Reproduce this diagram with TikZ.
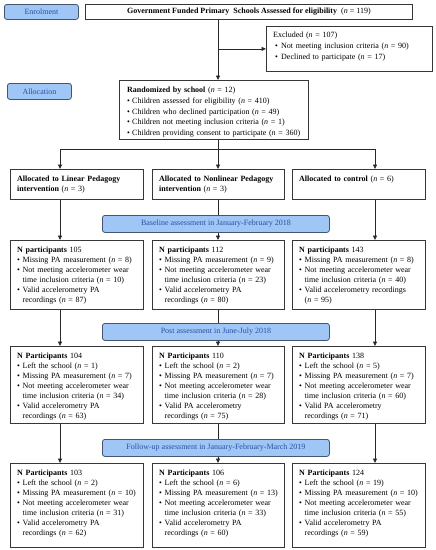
\documentclass[tikz,border=0pt]{standalone}
\usepackage{fontspec}
\setmainfont{Liberation Serif}
\usetikzlibrary{arrows.meta}
\definecolor{boxc}{RGB}{55,55,55}
\definecolor{banf}{RGB}{160,198,245}
\definecolor{banc}{RGB}{70,85,110}
\definecolor{bant}{RGB}{40,80,165}
\definecolor{linec}{RGB}{40,40,40}
\newcommand\bul{\par\makebox[5.5pt][l]{\textbullet}}
\newcommand\cont{\par\hspace*{5.5pt}}
\newcommand\nn{\textit{n}}
\tikzset{
  box/.style={draw=boxc, line width=0.8pt, fill=white, inner sep=0pt, anchor=north west},
  txt/.style={inner sep=0pt, anchor=north west, align=left, text width=200pt,
    font=\fontsize{8}{10}\selectfont, execute at begin node={\setlength{\parindent}{0pt}\strut}},
  banner/.style={draw=banc, fill=banf, rounded corners=2.5pt, line width=0.8pt, text=bant,
    inner sep=0pt, anchor=north west, font=\fontsize{8}{9}\selectfont},
  arr/.style={-{Triangle[length=4.5pt,width=4pt]}, line width=0.8pt, draw=linec},
  ln/.style={line width=0.8pt, draw=linec},
}
\newcommand\mkbox[6]{%
  \pgfmathsetmacro\bw{#4-#2}\pgfmathsetmacro\bh{#5-#3}%
  \node[box, minimum width=\bw pt, minimum height=\bh pt] (#1) at (#2,#3) {};
  \node[txt] (#1t) at ([shift={(7,5.5)}]#1.north west) {#6};}
\newcommand\mkbanner[6]{%
  \pgfmathsetmacro\bw{#4-#2}\pgfmathsetmacro\bh{#5-#3}%
  \node[banner, minimum width=\bw pt, minimum height=\bh pt] (#1) at (#2,#3) {#6};}
\begin{document}
\begin{tikzpicture}[x=1pt,y=-1pt]
\useasboundingbox (0,0) rectangle (436,550);
\coordinate (c1) at (60,0);
\coordinate (c2) at (218,0);
\coordinate (c3) at (375,0);
\coordinate (split) at (218,149);

\mkbanner{enrol}{4}{4}{78}{19}{Enrolment}
\mkbanner{alloc}{7}{83}{71}{99}{Allocation}

\pgfmathsetmacro\bw{412-85}
\node[box, minimum width=\bw pt, minimum height=15pt, font=\fontsize{8}{9}\selectfont] (top) at (85,4)
  {\textbf{Government Funded Primary\ \ Schools Assessed for eligibility}\ \ (\nn{} = 119)};

\mkbox{excl}{266}{26}{432}{71}{}
\node[txt, font=\fontsize{8}{11}\selectfont] (exclt) at ([shift={(7,4)}]excl.north west)
  {Excluded (\nn{} = 107)\par\hspace*{2pt}\makebox[6pt][l]{\textbullet}Not meeting inclusion criteria (\nn{} = 90)\par\hspace*{2pt}\makebox[6pt][l]{\textbullet}Declined to participate (\nn{} = 17)};

\mkbox{rand}{119}{80}{308}{139}{}
\node[txt, font=\fontsize{8}{10.7}\selectfont] (randt) at ([shift={(8,5)}]rand.north west)
  {\textbf{Randomized by school} (\nn{} = 12)\par
   \makebox[5pt][l]{\textbullet}Children assessed for eligibility (\nn{} = 410)\par
   \makebox[5pt][l]{\textbullet}Children who declined participation (\nn{} = 49)\par
   \makebox[5pt][l]{\textbullet}Children not meeting inclusion criteria (\nn{} = 1)\par
   \makebox[5pt][l]{\textbullet}Children providing consent to participate (\nn{} = 360)};

% row 1
\mkbox{a1}{10}{169}{143}{199}{\textbf{Allocated to Linear Pedagogy}\par\textbf{intervention} (\nn{} = 3)}
\mkbox{a2}{152}{169}{284}{199}{\textbf{Allocated to Nonlinear Pedagogy}\par\textbf{intervention} (\nn{} = 3)}
\mkbox{a3}{292}{169}{425}{199}{\textbf{Allocated to control} (\nn{} = 6)}

% row 2
\mkbox{b1}{10}{240}{143}{309}{\textbf{N participants} 105\bul Missing PA measurement (\nn{} = 8)\bul Not meeting accelerometer wear\cont time inclusion criteria (\nn{} = 10)\bul Valid accelerometry PA\cont recordings (\nn{} = 87)}
\mkbox{b2}{152}{240}{284}{309}{\textbf{N participants} 112\bul Missing PA measurement (\nn{} = 9)\bul Not meeting accelerometer wear\cont time inclusion criteria (\nn{} = 23)\bul Valid accelerometry PA\cont recordings (\nn{} = 80)}
\mkbox{b3}{292}{240}{425}{309}{\textbf{N participants} 143\bul Missing PA measurement (\nn{} = 8)\bul Not meeting accelerometer wear\cont time inclusion criteria (\nn{} = 40)\bul Valid accelerometry recordings\cont (\nn{} = 95)}

% row 3
\mkbox{c1b}{10}{346}{143}{423}{\textbf{N Participants} 104\bul Left the school (\nn{} = 1)\bul Missing PA measurement (\nn{} = 7)\bul Not meeting accelerometer wear\cont time inclusion criteria (\nn{} = 34)\bul Valid accelerometry PA\cont recordings (\nn{} = 63)}
\mkbox{c2b}{152}{346}{284}{423}{\textbf{N Participants} 110\bul Left the school (\nn{} = 2)\bul Missing PA measurement (\nn{} = 7)\bul Not meeting accelerometer wear\cont time inclusion criteria (\nn{} = 28)\bul Valid PA accelerometry\cont recordings (\nn{} = 75)}
\mkbox{c3b}{292}{346}{425}{423}{\textbf{N Participants} 138\bul Left the school (\nn{} = 5)\bul Missing PA measurement (\nn{} = 7)\bul Not meeting accelerometer wear\cont time inclusion criteria (\nn{} = 60)\bul Valid PA accelerometry\cont recordings (\nn{} = 71)}

% row 4
\mkbox{d1}{10}{463}{143}{547}{\textbf{N Participants} 103\bul Left the school (\nn{} = 2)\bul Missing PA measurement (\nn{} = 10)\bul Not meeting accelerometer wear\cont time inclusion criteria (\nn{} = 31)\bul Valid accelerometry PA\cont recordings (\nn{} = 62)}
\mkbox{d2}{152}{463}{284}{547}{\textbf{N Participants} 106\bul Left the school (\nn{} = 6)\bul Missing PA measurement (\nn{} = 13)\bul Not meeting accelerometer wear\cont time inclusion criteria (\nn{} = 33)\bul Valid accelerometry PA\cont recordings (\nn{} = 60)}
\mkbox{d3}{292}{463}{425}{547}{\textbf{N Participants} 124\bul Left the school (\nn{} = 19)\bul Missing PA measurement (\nn{} = 10)\bul Not meeting accelerometer wear\cont time inclusion criteria (\nn{} = 55)\bul Valid accelerometry PA\cont recordings (\nn{} = 59)}

% connectors
\draw[arr] (top.south -| c2) -- (rand.north -| c2);
\draw[arr] (excl.west -| c2) -- (excl.west);
\draw[ln] (rand.south -| c2) -- (split);
\draw[arr] (split) -| (a1.north -| c1);
\draw[arr] (split) -| (a3.north -| c3);
\draw[arr] (split) -- (a2.north -| c2);

\draw[arr] (a1.south -| c1) -- (b1.north -| c1);
\draw[arr] (a2.south -| c2) -- (b2.north -| c2);
\draw[arr] (a3.south -| c3) -- (b3.north -| c3);
\draw[arr] (b1.south -| c1) -- (c1b.north -| c1);
\draw[arr] (b2.south -| c2) -- (c2b.north -| c2);
\draw[arr] (b3.south -| c3) -- (c3b.north -| c3);
\draw[arr] (c1b.south -| c1) -- (d1.north -| c1);
\draw[arr] (c2b.south -| c2) -- (d2.north -| c2);
\draw[arr] (c3b.south -| c3) -- (d3.north -| c3);

% banners on top of the middle connectors
\mkbanner{base}{102}{215}{329}{232}{Baseline assessment in January-February 2018}
\mkbanner{post}{102}{323}{329}{340}{Post assessment in June-July 2018}
\mkbanner{follow}{102}{439}{329}{456}{Follow-up assessment in January-February-March 2019}
\end{tikzpicture}
\end{document}
